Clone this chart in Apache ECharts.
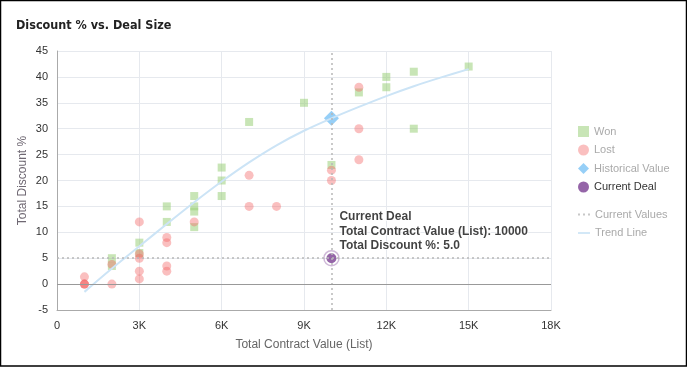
<!DOCTYPE html>
<html><head><meta charset="utf-8">
<script src="https://cdn.jsdelivr.net/npm/echarts@6/dist/echarts.min.js"></script>
<style>html,body{margin:0;padding:0;background:#fff}#c{width:687px;height:367px}</style>
</head><body><div id="c"></div>
<script>
var xTicks = [0, 3000, 6000, 9000, 12000, 15000, 18000];
var xTickLabels = ['0', '3K', '6K', '9K', '12K', '15K', '18K'];
var won = [[2000,5],[2000,3.5],[3000,8],[3000,6],[4000,15],[4000,12],[5000,17],[5000,15],[5000,14],[5000,11],[6000,22.5],[6000,20],[6000,17],[7000,31.3],[9000,35],[10000,23],[11000,37],[12000,40],[12000,38],[13000,41],[13000,30],[15000,42]];
var lost = [[1000,0],[1000,0],[1000,0],[1000,1.4],[2000,3.8],[2000,0],[3000,12],[3000,5.8],[3000,5],[3000,2.5],[3000,1],[4000,9],[4000,8],[4000,3.5],[4000,2.5],[5000,12],[7000,21],[7000,15],[8000,15],[10000,22],[10000,20],[11000,38],[11000,30],[11000,24]];
var historical = [[10000,32]];
var currentDeal = [[10000,5]];
var trend = [[1000,-1.5],[2000,3],[3000,7.3],[4000,11.6],[5000,15.8],[6000,19.8],[7000,23.5],[8000,26.8],[9000,29.6],[10000,32],[11000,34.2],[12000,36.3],[13000,38.2],[14000,39.9],[15000,41.5]];

var chart = echarts.init(document.getElementById('c'));
var lblMap = {};
xTicks.forEach(function(v,i){ lblMap[v] = xTickLabels[i]; });
chart.setOption({
  animation: false,
  title: { text: 'Discount % vs. Deal Size', left: 11, top: 14,
    textStyle: { fontFamily: '"DejaVu Sans Condensed", "Liberation Sans"', fontWeight: 'bold', fontSize: 12.5, color: '#222' } },
  graphic: [{ type: 'rect', shape: { x: 0.5, y: 0.5, width: 686, height: 365.5 }, style: { fill: 'none', stroke: '#000', lineWidth: 1.5 }, silent: true }],
  grid: { left: 57, right: 136, top: 51, bottom: 57 },
  legend: [{
    orient: 'vertical', left: 573, top: 121, itemWidth: 11, itemHeight: 11, itemGap: 7.5,
    textStyle: { color: '#aaa', fontSize: 11, fontFamily: 'Liberation Sans' },
    data: [
      { name: 'Won', icon: 'rect' },
      { name: 'Lost', icon: 'circle' },
      { name: 'Historical Value', icon: 'diamond' },
      { name: 'Current Deal', icon: 'circle', textStyle: { color: '#333' } }
    ]
  }, {
    orient: 'vertical', left: 573, top: 204, itemWidth: 12, itemHeight: 11, itemGap: 7.5,
    textStyle: { color: '#aaa', fontSize: 11, fontFamily: 'Liberation Sans' },
    data: [
      { name: 'Current Values', icon: 'path://M0,0h2v2h-2z M5,0h2v2h-2z M10,0h2v2h-2z', itemStyle: { color: '#c8c8c8' } },
      { name: 'Trend Line', icon: 'path://M0,0h12v1.6h-12z', itemStyle: { color: '#c9e3f6' } }
    ]
  }],
  xAxis: {
    type: 'value', min: 0, max: 18000, interval: 3000,
    name: 'Total Contract Value (List)', nameLocation: 'middle', nameGap: 29,
    nameTextStyle: { color: '#666', fontSize: 12, fontFamily: 'Liberation Sans' },
    axisLine: { onZero: false, lineStyle: { color: '#aaa' } },
    axisTick: { show: false },
    axisLabel: { color: '#333', fontSize: 11, margin: 10, fontFamily: 'Liberation Sans', formatter: function(v){ return lblMap[v] !== undefined ? lblMap[v] : v; } },
    splitLine: { show: true, lineStyle: { color: '#e6e9ee' } }
  },
  yAxis: {
    type: 'value', min: -5, max: 45, interval: 5,
    name: 'Total Discount %', nameLocation: 'middle', nameGap: 28, nameMoveOverlap: false,
    nameTextStyle: { color: '#6f6873', fontSize: 12, fontFamily: 'Liberation Sans' },
    axisLine: { show: true, lineStyle: { color: '#aaa' } },
    axisTick: { show: false },
    axisLabel: { color: '#333', fontSize: 11, margin: 9, fontFamily: 'Liberation Sans' },
    splitLine: { show: true, lineStyle: { color: '#e6e9ee' } }
  },
  series: [
    { name: 'Current Values', type: 'line', data: [], symbol: 'none', silent: true,
      lineStyle: { color: '#c8c8c8' },
      markLine: { silent: true, symbol: 'none', label: { show: false },
        lineStyle: { color: '#b8b8b8', type: [2, 3], width: 1.5 },
        data: [{ yAxis: 5 }, { xAxis: 10000 }] } },
    { name: 'Trend Line', type: 'line', data: trend, smooth: 0.3, symbol: 'none', silent: true,
      lineStyle: { color: '#cce4f6', width: 2 }, itemStyle: { color: '#c9e3f6' },
      markLine: { silent: true, symbol: 'none', label: { show: false },
        lineStyle: { color: '#999', type: 'solid', width: 1 }, data: [{ yAxis: 0 }] } },
    { name: 'Won', type: 'scatter', data: won, symbol: 'rect', symbolSize: 8,
      itemStyle: { color: 'rgba(150,205,115,0.65)' } },
    { name: 'Lost', type: 'scatter', data: lost, symbol: 'circle', symbolSize: 9,
      itemStyle: { color: 'rgba(242,100,100,0.52)' } },
    { name: 'Historical Value', type: 'scatter', data: historical, symbol: 'diamond', symbolSize: 15,
      itemStyle: { color: '#7cc3f5' } },
    { name: 'Current Ring', type: 'scatter', data: currentDeal, symbol: 'circle', symbolSize: 15, silent: true,
      itemStyle: { color: 'rgba(255,255,255,0)', borderColor: 'rgba(122,62,146,0.45)', borderWidth: 1.5 } },
    { name: 'Current Deal', type: 'scatter', data: currentDeal, symbol: 'circle', symbolSize: 10,
      itemStyle: { color: '#7a3e92' },
      label: { show: true, position: 'right', distance: 3, offset: [0, -27],
        formatter: function(p){ return 'Current Deal\nTotal Contract Value (List): ' + p.value[0] + '\nTotal Discount %: ' + p.value[1].toFixed(1); },
        color: '#111', fontWeight: 'bold', fontSize: 12, lineHeight: 14.5, fontFamily: 'Liberation Sans',
        textBorderColor: '#fff', textBorderWidth: 2 } }
  ]
});
</script></body></html>
